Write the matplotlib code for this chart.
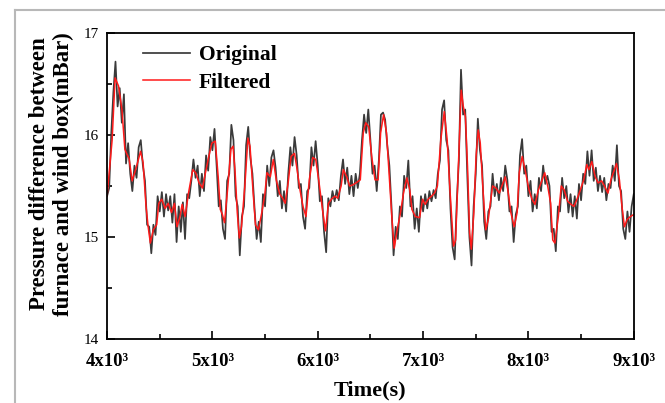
import numpy as np
import matplotlib
matplotlib.use("Agg")
import matplotlib.pyplot as plt
from matplotlib.lines import Line2D

# --- DATA ---
# original signal, sampled every 20 s from 4000 s to 9000 s
t_orig = np.arange(4000, 9001, 20)
p_orig = [
    15.40, 15.48, 16.02, 16.42, 16.72, 16.28, 16.46, 16.12, 16.40, 15.72,
    15.92, 15.62, 15.45, 15.70, 15.58, 15.88, 15.95, 15.70, 15.55, 15.12,
    15.10, 14.84, 15.12, 15.02, 15.40, 15.25, 15.44, 15.20, 15.42, 15.26,
    15.40, 15.14, 15.42, 14.95, 15.30, 15.05, 15.34, 14.98, 15.42, 15.38,
    15.55, 15.76, 15.58, 15.70, 15.40, 15.62, 15.45, 15.80, 15.65, 15.98,
    15.85, 16.06, 15.70, 15.30, 15.36, 15.08, 14.98, 15.55, 15.62, 16.10,
    15.95, 15.40, 15.30, 14.82, 15.20, 15.30, 15.90, 16.08, 15.78, 15.62,
    15.28, 14.98, 15.15, 14.95, 15.42, 15.30, 15.70, 15.50, 15.78, 15.85,
    15.68, 15.40, 15.55, 15.28, 15.45, 15.25, 15.62, 15.88, 15.70, 15.98,
    15.80, 15.48, 15.52, 15.20, 15.08, 15.45, 15.48, 15.88, 15.70, 15.94,
    15.70, 15.35, 15.40, 15.05, 14.85, 15.38, 15.30, 15.45, 15.35, 15.46,
    15.36, 15.60, 15.76, 15.52, 15.68, 15.42, 15.60, 15.40, 15.62, 15.48,
    15.62, 15.95, 16.20, 16.02, 16.25, 15.95, 15.62, 15.70, 15.45, 15.75,
    16.20, 16.22, 16.15, 15.90, 15.70, 15.30, 14.82, 15.10, 14.98, 15.30,
    15.20, 15.60, 15.48, 15.75, 15.30, 15.40, 15.08, 15.28, 15.05, 15.40,
    15.25, 15.42, 15.28, 15.45, 15.35, 15.46, 15.38, 15.62, 15.75, 16.25,
    16.34, 15.95, 15.85, 15.28, 14.90, 14.78, 15.35, 15.75, 16.64, 16.20,
    16.25, 15.60, 15.00, 14.72, 15.30, 15.62, 16.16, 15.85, 15.70, 15.15,
    14.98, 15.25, 15.30, 15.62, 15.40, 15.52, 15.36, 15.58, 15.45, 15.70,
    15.56, 15.25, 15.30, 14.95, 15.22, 15.30, 15.80, 15.96, 15.62, 15.70,
    15.40, 15.55, 15.25, 15.42, 15.28, 15.58, 15.45, 15.70, 15.52, 15.60,
    15.50, 15.05, 15.08, 14.86, 15.30, 15.25, 15.58, 15.38, 15.50, 15.24,
    15.42, 15.20, 15.40, 15.18, 15.52, 15.36, 15.62, 15.52, 15.84, 15.60,
    15.85, 15.55, 15.68, 15.45, 15.60, 15.44, 15.58, 15.36, 15.52, 15.48,
    15.70, 15.55, 15.90, 15.50, 15.45, 15.08, 14.98, 15.25, 15.05, 15.30,
    15.42,
]

# filtered signal
t_filt = [
    4000, 4048, 4076, 4109, 4141, 4169, 4189, 4209, 4238, 4262, 4290, 4318,
    4342, 4370, 4390, 4411, 4439, 4471, 4491, 4519, 4552, 4580, 4612, 4640,
    4664, 4692, 4713, 4741, 4773, 4813, 4841, 4874, 4906, 4934, 4966, 4994,
    5027, 5055, 5075, 5095, 5115, 5147, 5176, 5196, 5216, 5236, 5256, 5276,
    5308, 5337, 5357, 5385, 5409, 5437, 5469, 5498, 5518, 5550, 5578, 5606,
    5639, 5667, 5691, 5719, 5747, 5779, 5800, 5832, 5860, 5888, 5920, 5953,
    5981, 6009, 6041, 6073, 6102, 6130, 6162, 6190, 6222, 6243, 6275, 6303,
    6331, 6363, 6404, 6432, 6456, 6484, 6512, 6544, 6573, 6597, 6625, 6653,
    6685, 6705, 6726, 6754, 6786, 6814, 6846, 6874, 6894, 6927, 6967, 6995,
    7020, 7048, 7080, 7108, 7136, 7168, 7201, 7229, 7257, 7289, 7309, 7329,
    7362, 7382, 7402, 7422, 7442, 7458, 7482, 7503, 7523, 7543, 7571, 7595,
    7619, 7643, 7660, 7692, 7724, 7752, 7780, 7805, 7833, 7865, 7893, 7913,
    7941, 7974, 8006, 8034, 8062, 8094, 8127, 8155, 8183, 8211, 8231, 8251,
    8284, 8312, 8340, 8372, 8405, 8433, 8461, 8493, 8525, 8554, 8574, 8602,
    8634, 8662, 8695, 8723, 8755, 8783, 8816, 8836, 8864, 8888, 8912, 8936,
    8968, 9000,
]
p_filt = [
    15.40, 15.95, 16.56, 16.48, 16.25, 15.86, 15.81, 15.77, 15.55, 15.63, 15.73, 15.84,
    15.73, 15.30, 15.10, 14.94, 15.07, 15.12, 15.33, 15.37, 15.28, 15.33, 15.24, 15.33,
    15.10, 15.20, 15.32, 15.20, 15.43, 15.66, 15.63, 15.53, 15.48, 15.63, 15.79, 15.92,
    15.94, 15.59, 15.27, 15.22, 15.14, 15.50, 15.86, 15.89, 15.63, 15.24, 14.99, 15.10,
    15.50, 15.97, 15.89, 15.46, 15.12, 15.07, 15.24, 15.42, 15.63, 15.59, 15.76, 15.56,
    15.42, 15.38, 15.33, 15.53, 15.79, 15.82, 15.69, 15.46, 15.30, 15.20, 15.56, 15.78,
    15.76, 15.56, 15.30, 15.06, 15.33, 15.37, 15.40, 15.38, 15.50, 15.66, 15.59, 15.50,
    15.51, 15.53, 15.56, 16.02, 16.12, 16.08, 15.79, 15.56, 15.56, 16.02, 16.20, 16.02,
    15.50, 15.17, 14.89, 15.07, 15.24, 15.43, 15.58, 15.46, 15.27, 15.20, 15.19, 15.37,
    15.32, 15.37, 15.40, 15.43, 15.50, 15.95, 16.23, 15.95, 15.43, 14.91, 14.97, 15.53,
    16.44, 16.28, 16.18, 15.69, 15.04, 14.88, 15.24, 15.79, 16.05, 15.92, 15.43, 15.07,
    15.17, 15.37, 15.50, 15.48, 15.43, 15.51, 15.59, 15.46, 15.24, 15.10, 15.24, 15.63,
    15.79, 15.63, 15.46, 15.37, 15.32, 15.46, 15.55, 15.63, 15.50, 15.33, 14.97, 14.94,
    15.20, 15.50, 15.46, 15.35, 15.32, 15.30, 15.37, 15.46, 15.56, 15.71, 15.66, 15.74,
    15.59, 15.53, 15.55, 15.50, 15.43, 15.56, 15.66, 15.72, 15.56, 15.30, 15.10, 15.17,
    15.20, 15.22,
]

x_ticks = [4000, 5000, 6000, 7000, 8000, 9000]
x_tick_labels = ["4x10³", "5x10³", "6x10³", "7x10³", "8x10³", "9x10³"]
y_ticks = [14, 15, 16, 17]

# --- STYLE ---
plt.rcParams["font.family"] = ["Liberation Serif", "DejaVu Serif"]

fig = plt.figure(figsize=(6.65, 4.03), dpi=100)
ax = fig.add_axes([0.161, 0.159, 0.792, 0.759])

ax.plot(t_orig, p_orig, color="#3a3a3a", linewidth=1.25, label="Original")
ax.plot(t_filt, p_filt, color="#ff1a1a", linewidth=1.1, label="Filtered")

ax.set_xlim(4000, 9000)
ax.set_ylim(14, 17)
ax.set_xticks(x_ticks)
ax.set_xticklabels(x_tick_labels, fontsize=13.5, fontweight="bold")
ax.set_xticks(np.arange(4500, 9000, 1000), minor=True)
ax.set_yticks(y_ticks)
ax.set_yticklabels([str(v) for v in y_ticks], fontsize=11)
ax.set_yticks([14.5, 15.5, 16.5], minor=True)
ax.tick_params(which="major", direction="in", length=6, width=1.2)
ax.tick_params(axis="x", which="major", pad=10)
ax.tick_params(axis="y", which="major", pad=6)
ax.tick_params(which="minor", direction="in", length=3.5, width=1.2)
for s in ax.spines.values():
    s.set_linewidth(1.3)

ax.set_xlabel("Time(s)", fontsize=16, fontweight="bold", labelpad=8)
ax.set_ylabel("Pressure difference between\nfurnace and wind box(mBar)",
              fontsize=16.5, fontweight="bold", linespacing=1.22)
ax.yaxis.set_label_coords(-0.062, 0.54)

ax.legend(loc="upper left", bbox_to_anchor=(0.068, 0.96), frameon=False,
          prop={"size": 15.5, "weight": "bold"}, handlelength=2.2,
          handletextpad=0.4, labelspacing=0.34, borderpad=0, borderaxespad=0)

# light grey frame line at top and left of the figure
fig.add_artist(Line2D([15 / 665, 1.0], [1 - 10 / 403, 1 - 10 / 403],
                      transform=fig.transFigure, color="#b8b8b8", linewidth=1.5))
fig.add_artist(Line2D([15 / 665, 15 / 665], [0.0, 1 - 10 / 403],
                      transform=fig.transFigure, color="#b8b8b8", linewidth=1.5))

fig.savefig("out.png", dpi=100)
